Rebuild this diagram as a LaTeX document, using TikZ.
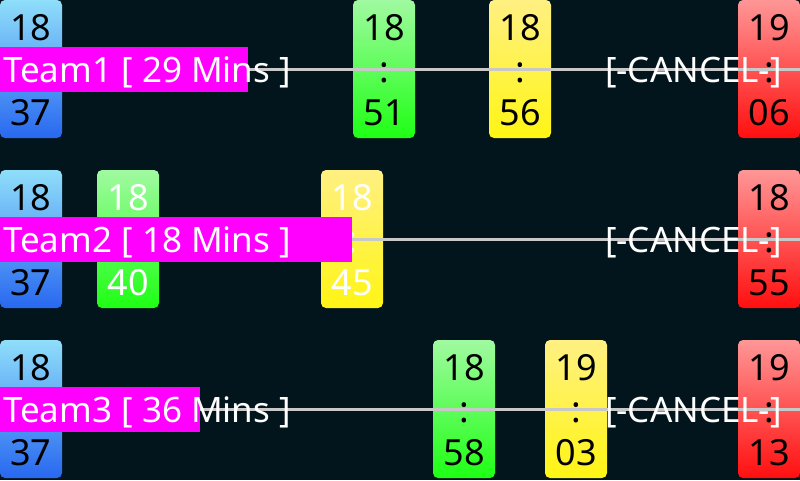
\documentclass[tikz,border=0pt]{standalone}
\usepackage{fontspec}
\setmainfont{Noto Sans}
\definecolor{bg}{RGB}{2,20,28}
\definecolor{magbar}{RGB}{255,0,255}
\definecolor{strike}{RGB}{200,200,200}
\definecolor{blueT}{RGB}{143,222,250}
\definecolor{blueB}{RGB}{40,104,240}
\definecolor{greenT}{RGB}{160,250,160}
\definecolor{greenB}{RGB}{30,255,20}
\definecolor{yellowT}{RGB}{255,240,130}
\definecolor{yellowB}{RGB}{255,245,20}
\definecolor{redT}{RGB}{255,150,150}
\definecolor{redB}{RGB}{255,15,15}
\tikzset{
  tbox/.style={rounded corners=5pt, minimum width=62pt, minimum height=138pt, inner sep=0pt, outer sep=0pt},
  num/.style={inner sep=0pt, font=\fontsize{36}{36}\selectfont},
  magbox/.style={fill=magbar, minimum height=45pt, inner sep=0pt, outer sep=0pt, anchor=north west},
  lbl/.style={inner sep=0pt, text=white, font=\fontsize{35}{35}\selectfont, anchor=base west},
  strikeline/.style={draw=strike, line width=3.5pt}
}
\newcommand\tbx[8]{%
  \node[tbox, top color=#4, bottom color=#5, anchor=north west] (#1) at (#2,#3) {};
  \node[num, text=#8] (#1h) at ([yshift=-28pt]#1.north) {#6};
  \node[num, text=#8] (#1c) at ([yshift=-73pt]#1.north) {:};
  \node[num, text=#8] (#1m) at ([yshift=-113pt]#1.north) {#7};
}
\begin{document}
\begin{tikzpicture}[x=1pt,y=-1pt]
\fill[bg] (0,0) rectangle (800,480);
\useasboundingbox (0,0) rectangle (800,480);
% row 1
\tbx{a1}{0}{0}{blueT}{blueB}{18}{37}{black}
\tbx{a2}{353}{0}{greenT}{greenB}{18}{51}{black}
\tbx{a3}{489}{0}{yellowT}{yellowB}{18}{56}{black}
\tbx{a4}{738}{0}{redT}{redB}{19}{06}{black}
% row 2
\tbx{b1}{0}{170}{blueT}{blueB}{18}{37}{black}
\tbx{b2}{97}{170}{greenT}{greenB}{18}{40}{white}
\tbx{b3}{321}{170}{yellowT}{yellowB}{18}{45}{white}
\tbx{b4}{738}{170}{redT}{redB}{18}{55}{black}
% row 3
\tbx{c1}{0}{340}{blueT}{blueB}{18}{37}{black}
\tbx{c2}{433}{340}{greenT}{greenB}{18}{58}{black}
\tbx{c3}{545}{340}{yellowT}{yellowB}{19}{03}{black}
\tbx{c4}{738}{340}{redT}{redB}{19}{13}{black}
% magenta bars
\node[magbox, minimum width=248pt] (m1) at (0,47) {};
\node[magbox, minimum width=352pt] (m2) at (0,217) {};
\node[magbox, minimum width=200pt] (m3) at (0,387) {};
\coordinate (e1) at (800,69.5);
\coordinate (e2) at (800,239.5);
\coordinate (e3) at (800,409.5);
\draw[strikeline] (m1.east) -- (e1);
\draw[strikeline] (m2.east) -- (e2);
\draw[strikeline] (m3.east) -- (e3);
% labels
\node[lbl] (t1) at (3,82) {Team1 [ 29 Mins ]};
\node[lbl] (t2) at (3,252) {Team2 [ 18 Mins ]};
\node[lbl] (t3) at (3,422) {Team3 [ 36 Mins ]};
\node[lbl] (k1) at (605,82) {[-CANCEL-]};
\node[lbl] (k2) at (605,252) {[-CANCEL-]};
\node[lbl] (k3) at (605,422) {[-CANCEL-]};
\end{tikzpicture}
\end{document}
